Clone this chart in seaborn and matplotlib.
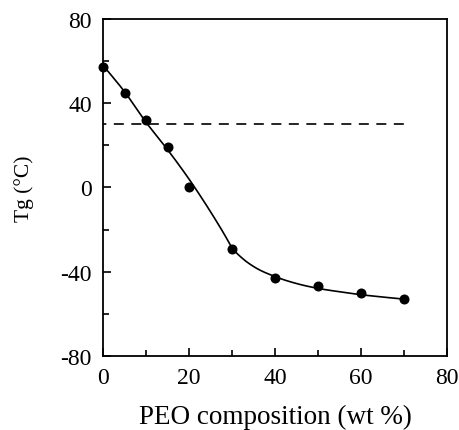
import numpy as np
import pandas as pd
import matplotlib
matplotlib.use("Agg")
import matplotlib.pyplot as plt
import seaborn as sns
from matplotlib.ticker import MultipleLocator

# measured points
peo_wt = [0, 5, 10, 15, 20, 30, 40, 50, 60, 70]
tg_c = [57, 45, 32, 19, 0, -29, -43, -47, -50, -53]

# smooth guide curve
curve_x = [0, 5, 10, 15, 20, 25, 28, 30, 32.5, 35, 40, 45, 50, 55, 60, 65, 70]
curve_y = [58, 45.5, 31, 18, 4, -11.5, -21.5, -28.5, -33.8, -37.5, -42.3, -45.6, -47.9, -49.5, -50.9, -52, -53]

# reference line
ref_x = [0, 70]
ref_y = [30, 30]

sns.set_theme(style="ticks")
plt.rcParams['font.family'] = ['Liberation Serif', 'DejaVu Serif']
plt.rcParams['axes.unicode_minus'] = False
plt.rcParams['text.color'] = 'black'
plt.rcParams['axes.labelcolor'] = 'black'

fig = plt.figure(figsize=(4.59, 4.31), dpi=100)
ax = fig.add_axes([0.2244, 0.1717, 0.974 - 0.2244, 0.9536 - 0.1717])

# smooth curve (cubic Hermite through the read curve values)
cx = np.array(curve_x, float)
cy = np.array(curve_y, float)
m = np.gradient(cy, cx)
xs, ys = [], []
for i in range(len(cx) - 1):
    h = cx[i + 1] - cx[i]
    t = np.linspace(0, 1, 20)
    h00 = 2 * t**3 - 3 * t**2 + 1
    h10 = t**3 - 2 * t**2 + t
    h01 = -2 * t**3 + 3 * t**2
    h11 = t**3 - t**2
    xs.append(cx[i] + t * h)
    ys.append(h00 * cy[i] + h10 * h * m[i] + h01 * cy[i + 1] + h11 * h * m[i + 1])
smooth = pd.DataFrame({"x": np.concatenate(xs), "y": np.concatenate(ys)})
sns.lineplot(data=smooth, x="x", y="y", ax=ax, color="black", lw=1.2, sort=False, estimator=None)

sns.lineplot(x=ref_x, y=ref_y, ax=ax, color="black", lw=1.2, linestyle=(4, (6, 4.5)))

pts = pd.DataFrame({"PEO": peo_wt, "Tg": tg_c})
sns.scatterplot(data=pts, x="PEO", y="Tg", ax=ax, color="black", s=52, edgecolor="black", linewidth=0, zorder=5, clip_on=False)

ax.set_xlim(0, 80)
ax.set_ylim(-80, 80)
ax.xaxis.set_major_locator(MultipleLocator(20))
ax.xaxis.set_minor_locator(MultipleLocator(10))
ax.yaxis.set_major_locator(MultipleLocator(40))
ax.yaxis.set_minor_locator(MultipleLocator(20))
ax.tick_params(which="both", direction="in", top=False, right=False, width=1.2, labelsize=17, pad=8, colors="black")
ax.tick_params(which="major", length=5.5)
ax.tick_params(which="minor", length=4.5)
for s in ax.spines.values():
    s.set_visible(True)
    s.set_linewidth(1.3)
    s.set_color("black")

ax.set_xlabel("PEO composition (wt %)", fontsize=19.5, labelpad=11, color="black")
ax.set_ylabel("Tg (°C)", fontsize=15.5, labelpad=19, color="black")

fig.savefig("out.png", dpi=100)
